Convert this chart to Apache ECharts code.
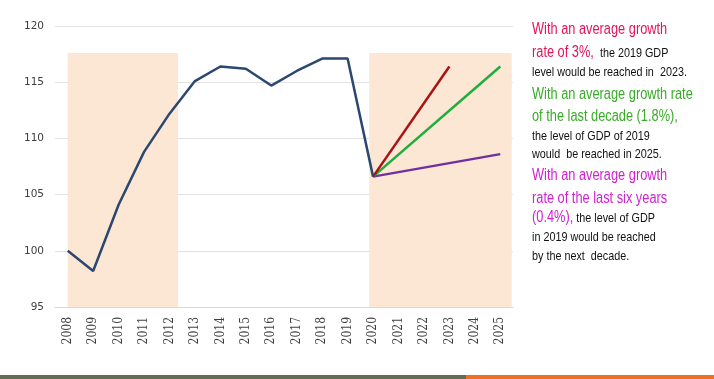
<!DOCTYPE html>
<html><head><meta charset="utf-8">
<script src="https://cdn.jsdelivr.net/npm/echarts@6/dist/echarts.min.js"></script>
<style>html,body{margin:0;padding:0;background:#fff}#c{width:714px;height:379px}</style>
</head><body><div id="c"></div>
<script>
const years = ['2008','2009','2010','2011','2012','2013','2014','2015','2016','2017','2018','2019','2020','2021','2022','2023','2024','2025'];
const gdp = [100, 98.2, 104.1, 108.8, 112.2, 115.1, 116.4, 116.2, 114.7, 116.0, 117.1, 117.1, 106.6, null, null, null, null, null];
const growth3 = [null,null,null,null,null,null,null,null,null,null,null,null, 106.6, null, null, 116.4, null, null];
const growthDecade = [null,null,null,null,null,null,null,null,null,null,null,null, 106.6, null, null, null, null, 116.4];
const growthSix = [null,null,null,null,null,null,null,null,null,null,null,null, 106.6, null, null, null, null, 108.6];
const yTicks = [95, 100, 105, 110, 115, 120];
const shadeTop = 117.6;
const shadeRanges = [[0, 4.33], [11.85, 17.45]];
const noteLines = [
  '{r|With an average growth}',
  '{r|rate of 3%,}{b|  the 2019 GDP}',
  '{b|level would be reached in  2023.}',
  '{g|With an average growth rate}',
  '{g|of the last decade (1.8%),}',
  '{b|the level of GDP of 2019}',
  '{b|would  be reached in 2025.}',
  '{m|With an average growth}',
  '{m|rate of the last six years}',
  '{m|(0.4%),}{b| the level of GDP}',
  '{b|in 2019 would be reached}',
  '{b|by the next  decade.}'
];
const noteY = [30, 53, 72, 95, 117, 136, 154, 176, 199, 218, 237, 256];

const chart = echarts.init(document.getElementById('c'));
const F = '"Liberation Sans",sans-serif';
function line(data, color, w) {
  return { type: 'line', data, connectNulls: true, symbol: 'none', lineStyle: { color, width: w }, z: 3, animation: false };
}
const rich = {
  r: { fill: '#e2145a', fontSize: 16, fontFamily: F },
  g: { fill: '#3aaa2a', fontSize: 16, fontFamily: F },
  m: { fill: '#d020d0', fontSize: 16, fontFamily: F },
  b: { fill: '#111', fontSize: 13.5, fontFamily: F }
};
chart.setOption({
  animation: false,
  grid: { left: 55, right: 201, top: 26, bottom: 72 },
  xAxis: [
    { type: 'category', data: years, boundaryGap: true,
      axisLine: { lineStyle: { color: '#d9d9d9' } }, axisTick: { show: false },
      axisLabel: { rotate: 90, color: '#404040', fontFamily: 'DejaVu Serif Condensed, serif', fontSize: 12, margin: 10, interval: 0 } },
    { type: 'value', min: -0.5, max: 17.5, show: false }
  ],
  yAxis: { type: 'value', min: yTicks[0], max: yTicks[yTicks.length-1], interval: 5,
    axisLine: { show: false }, axisTick: { show: false },
    axisLabel: { color: '#404040', fontFamily: 'DejaVu Sans', fontSize: 10.5, margin: 11 },
    splitLine: { lineStyle: { color: '#e3e3e3' } } },
  series: [
    { type: 'line', xAxisIndex: 1, data: [], silent: true,
      markArea: { silent: true, itemStyle: { color: '#fce6d4' },
        data: shadeRanges.map(r => [{ xAxis: r[0], yAxis: yTicks[0] }, { xAxis: r[1], yAxis: shadeTop }]) }, z: 1 },
    line(growthSix, '#7030a0', 2.5),
    line(growthDecade, '#1fae3c', 2.5),
    line(growth3, '#a81414', 2.5),
    line(gdp, '#2c4770', 2.5)
  ],
  graphic: [
    { type: 'rect', left: 0, top: 375, shape: { width: 466, height: 4 }, style: { fill: '#5f6e55' } },
    { type: 'rect', left: 466, top: 375, shape: { width: 248, height: 4 }, style: { fill: '#f07020' } }
  ].concat(noteLines.map((t, i) => ({
    type: 'text', x: 532, y: noteY[i], scaleX: 0.8,
    style: { text: t, rich, verticalAlign: 'middle', textVerticalAlign: 'middle' }
  })))
});
</script></body></html>
